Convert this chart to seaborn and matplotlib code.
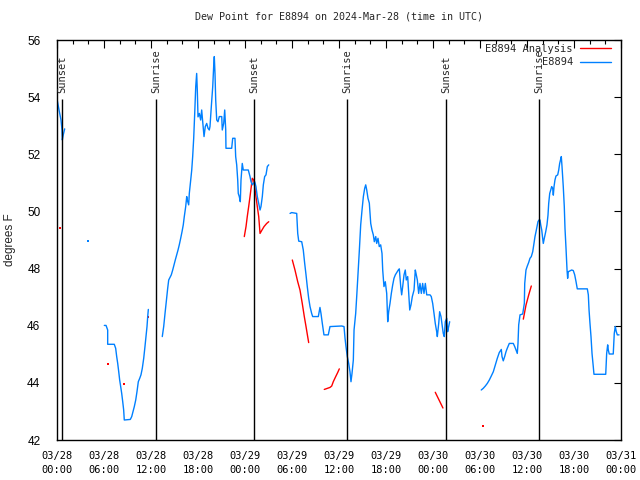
import pandas as pd
import numpy as np
import matplotlib
matplotlib.use('Agg')
import matplotlib.pyplot as plt
import matplotlib.dates as mdates
from matplotlib.lines import Line2D
import seaborn as sns

# Observed dew point (E8894), hours since 2024-03-28 00:00 UTC, split where data is missing
obs_h_1 = [0.0, 0.26, 0.51, 0.64, 0.68, 0.80, 0.98]
obs_v_1 = [53.94, 53.55, 53.20, 52.85, 52.50, 52.68, 52.89]

obs_h_2 = [6.04, 6.26, 6.47, 6.47, 7.31, 7.49, 7.62, 7.75, 7.88, 8.00, 8.13, 8.26, 8.39, 8.51,
           8.59, 9.36, 9.54, 9.70, 9.87, 10.05, 10.21, 10.38, 10.56, 10.72, 10.89, 11.07, 11.23,
           11.36, 11.49, 11.58, 11.66]
obs_v_2 = [46.01, 46.01, 45.85, 45.35, 45.35, 45.21, 44.92, 44.68, 44.39, 44.10, 43.87, 43.63,
           43.34, 43.05, 42.70, 42.72, 42.82, 42.99, 43.17, 43.40, 43.69, 44.04, 44.16, 44.28,
           44.51, 44.86, 45.27, 45.62, 45.97, 46.32, 46.57]

obs_h_3 = [13.44, 13.62, 13.79, 13.95, 14.13, 14.26, 14.59, 14.77, 14.94, 15.10, 15.28, 15.45,
           15.61, 15.79, 15.96, 16.12, 16.25, 16.43, 16.56, 16.63, 16.81, 16.89, 17.07, 17.20,
           17.32, 17.45, 17.58, 17.71, 17.83, 17.91, 18.00, 18.17, 18.34, 18.47, 18.60, 18.77,
           18.93, 19.11, 19.28, 19.44, 19.53, 19.70, 19.88, 20.00, 20.08, 20.17, 20.26, 20.39,
           20.55, 20.72, 21.03, 21.10, 21.28, 21.41, 21.54, 21.57, 22.30, 22.43, 22.72, 22.81,
           22.94, 23.07, 23.14, 23.27, 23.40, 23.49, 23.65, 23.78, 24.42, 24.64, 24.77, 24.93,
           25.06, 25.24, 25.40, 25.57, 25.75, 25.92, 26.04, 26.21, 26.34, 26.51, 26.68, 26.85,
           27.03]
obs_v_3 = [45.62, 45.97, 46.43, 46.84, 47.31, 47.60, 47.78, 47.95, 48.13, 48.30, 48.48, 48.65,
           48.83, 49.06, 49.29, 49.53, 49.82, 50.17, 50.52, 50.40, 50.23, 50.63, 51.10, 51.45,
           51.92, 52.56, 53.43, 54.37, 54.83, 54.25, 53.31, 53.43, 53.20, 53.55, 53.14, 52.62,
           52.97, 53.08, 52.91, 52.85, 52.97, 53.67, 54.37, 55.07, 55.42, 54.83, 53.90, 53.20,
           53.14, 53.32, 53.32, 52.85, 53.08, 53.55, 52.85, 52.21, 52.21, 52.56, 52.56, 51.92,
           51.63, 51.10, 50.63, 50.52, 50.34, 51.10, 51.68, 51.45, 51.45, 51.22, 51.04, 50.93,
           50.98, 51.04, 50.87, 50.52, 50.28, 50.05, 50.17, 50.52, 50.93, 51.22, 51.28, 51.57,
           51.63]

obs_h_4 = [29.75, 29.96, 30.60, 30.73, 30.86, 31.24, 31.44, 31.62, 31.79, 31.95, 32.13, 32.30,
           32.51, 32.64, 33.36, 33.57, 33.70, 33.87, 34.08, 34.63, 34.85, 36.34, 36.64, 36.77,
           36.89, 37.06, 37.24, 37.40, 37.53, 37.66, 37.83, 37.92, 38.13, 38.26, 38.43, 38.60,
           38.77, 38.94, 39.11, 39.28, 39.41, 39.54, 39.70, 39.87, 40.05, 40.21, 40.38, 40.51,
           40.69, 40.81, 40.98, 41.14, 41.32, 41.49, 41.58, 41.74, 41.91, 42.09, 42.22, 42.34,
           42.51, 42.68, 42.85, 43.02, 43.19, 43.37, 43.57, 43.70, 43.88, 44.00, 44.13, 44.30,
           44.46, 44.59, 44.77, 44.90, 45.03, 45.19, 45.36, 45.58, 45.74, 45.83, 46.00, 46.17,
           46.34, 46.51, 46.68, 46.85, 47.02, 47.20, 47.62, 47.78, 47.96, 48.13, 48.29, 48.47,
           48.55, 48.73, 48.85, 49.02, 49.19, 49.31, 49.44, 49.57, 49.75, 49.87, 50.00, 50.13]
obs_v_4 = [49.93, 49.96, 49.93, 49.23, 48.96, 48.94, 48.65, 48.18, 47.78, 47.37, 46.96, 46.67,
           46.43, 46.32, 46.32, 46.64, 46.43, 46.08, 45.68, 45.68, 45.97, 45.99, 45.97, 45.56,
           45.27, 44.92, 44.68, 44.39, 44.04, 44.33, 44.80, 45.85, 46.43, 47.02, 47.83, 48.65,
           49.53, 50.05, 50.52, 50.81, 50.93, 50.75, 50.46, 50.29, 49.58, 49.35, 49.18, 48.94,
           49.12, 48.88, 49.06, 48.77, 48.83, 48.53, 47.95, 47.37, 47.54, 47.13, 46.14, 46.49,
           46.78, 47.13, 47.42, 47.66, 47.78, 47.86, 47.95, 47.99, 47.37, 47.08, 47.37, 47.78,
           47.95, 47.60, 47.72, 47.13, 46.55, 46.73, 47.02, 47.25, 47.95, 47.83, 47.60, 47.13,
           47.48, 47.13, 47.48, 47.13, 47.48, 47.08, 47.08, 47.02, 46.78, 46.43, 46.08, 45.79,
           45.62, 46.08, 46.49, 46.32, 45.97, 45.73, 45.62, 46.14, 46.26, 45.79, 45.97, 46.14]

obs_h_5 = [54.16, 54.42, 54.68, 54.93, 55.19, 55.44, 55.70, 55.95, 56.21, 56.46, 56.72, 56.81,
           56.97, 57.15, 57.32, 57.48, 57.74, 58.25, 58.43, 58.60, 58.76, 58.85, 58.94, 59.11,
           59.45, 59.66, 59.71, 59.87, 60.04, 60.21, 60.38, 60.55, 60.73, 60.89, 61.02, 61.15,
           61.28, 61.40, 61.53, 61.66, 61.75, 61.88, 62.00, 62.08, 62.21, 62.39, 62.55, 62.68,
           62.77, 62.90, 63.03, 63.15, 63.28, 63.36, 63.45, 63.57, 63.70, 63.92, 64.05, 64.17,
           64.25, 64.38, 64.47, 64.63, 64.76, 64.85, 64.98, 65.11, 65.19, 65.27, 65.70, 65.91,
           66.09, 66.26, 66.42, 67.70, 67.83, 67.92, 68.04, 68.17, 68.30, 68.46, 68.55, 70.05,
           70.17, 70.30, 70.38, 70.50, 71.01, 71.14, 71.27, 71.40, 71.53, 71.75]
obs_v_5 = [43.75, 43.81, 43.89, 43.98, 44.10, 44.24, 44.39, 44.62, 44.86, 45.06, 45.17, 44.92,
           44.77, 44.92, 45.09, 45.21, 45.38, 45.38, 45.27, 45.15, 45.03, 45.38, 46.03, 46.38,
           46.41, 46.78, 47.48, 47.95, 48.09, 48.21, 48.36, 48.42, 48.59, 48.88, 49.12, 49.29,
           49.47, 49.64, 49.70, 49.70, 49.53, 49.35, 49.06, 48.88, 49.06, 49.29, 49.53, 49.87,
           50.28, 50.63, 50.75, 50.87, 50.81, 50.57, 50.87, 51.10, 51.24, 51.28, 51.45, 51.68,
           51.77, 51.92, 51.57, 50.87, 50.17, 49.41, 48.71, 47.95, 47.66, 47.89, 47.95, 47.93,
           47.78, 47.54, 47.29, 47.29, 47.08, 46.55, 46.08, 45.62, 45.03, 44.57, 44.30, 44.30,
           45.03, 45.33, 45.15, 45.01, 45.01, 45.73, 45.97, 45.79, 45.68, 45.68]

obs_dot_h = [4.0]
obs_dot_v = [48.97]

# Analysis series
ana_h_1 = [23.91, 24.13, 24.29, 24.47, 24.64, 24.80, 24.93, 25.11, 25.24, 25.40, 25.57, 25.75,
           25.92, 26.17, 26.43, 26.77, 27.03]
ana_v_1 = [49.12, 49.47, 49.82, 50.17, 50.52, 50.87, 51.16, 51.10, 50.87, 50.52, 50.17, 49.82,
           49.23, 49.35, 49.47, 49.58, 49.64]
ana_h_2 = [30.04, 30.38, 30.73, 31.02, 31.31, 31.57, 31.79, 32.00, 32.13]
ana_v_2 = [48.30, 47.95, 47.54, 47.25, 46.78, 46.32, 45.97, 45.62, 45.41]
ana_h_3 = [34.12, 34.85, 35.07, 35.27, 35.58, 35.83, 36.04]
ana_v_3 = [43.77, 43.84, 43.89, 44.04, 44.22, 44.36, 44.49]
ana_h_4 = [48.29, 49.27]
ana_v_4 = [43.67, 43.12]
ana_h_5 = [59.53, 59.87, 60.21, 60.55]
ana_v_5 = [46.23, 46.72, 47.07, 47.39]

ana_dot_h = [0.42, 6.55, 8.59, 11.65, 54.42]
ana_dot_v = [49.41, 44.66, 43.96, 46.31, 42.48]

# Sunrise / sunset markers
sun_h = [0.68, 12.68, 25.15, 37.06, 49.70, 61.57]
sun_lab = ['Sunset', 'Sunrise', 'Sunset', 'Sunrise', 'Sunset', 'Sunrise']

base = pd.Timestamp('2024-03-28 00:00')
BLUE = '#0080ff'
RED = '#ff0000'
MONO = 'DejaVu Sans Mono'


def to_time(hours):
    return base + pd.to_timedelta(np.array(hours), unit='h')


def build_frame(pairs):
    frames = []
    for i, (h, v) in enumerate(pairs):
        frames.append(pd.DataFrame({'time': to_time(h), 'value': v, 'seg': i}))
    return pd.concat(frames, ignore_index=True)


obs_df = build_frame([(obs_h_1, obs_v_1), (obs_h_2, obs_v_2), (obs_h_3, obs_v_3),
                      (obs_h_4, obs_v_4), (obs_h_5, obs_v_5)])
ana_df = build_frame([(ana_h_1, ana_v_1), (ana_h_2, ana_v_2), (ana_h_3, ana_v_3),
                      (ana_h_4, ana_v_4), (ana_h_5, ana_v_5)])

sns.set_theme(style='white')
plt.rcParams['font.family'] = ['DejaVu Sans']

fig = plt.figure(figsize=(6.4, 4.8), dpi=100)
ax = fig.add_axes([57 / 640, 40 / 480, 564 / 640, 400 / 480])

sns.lineplot(data=ana_df, x='time', y='value', units='seg', estimator=None, sort=False,
             color=RED, lw=1, ax=ax)
sns.lineplot(data=obs_df, x='time', y='value', units='seg', estimator=None, sort=False,
             color=BLUE, lw=1, ax=ax)
sns.scatterplot(x=to_time(ana_dot_h), y=ana_dot_v, color=RED, marker='s', s=2,
                linewidth=0, ax=ax)
sns.scatterplot(x=to_time(obs_dot_h), y=obs_dot_v, color=BLUE, marker='s', s=2,
                linewidth=0, ax=ax)

# sunrise / sunset lines
sun_t = to_time(sun_h)
ax.vlines(sun_t, 42, 53.94, color='black', lw=1)
for t, lab in zip(sun_t, sun_lab):
    ax.text(t, 54.15, lab, rotation=90, ha='center', va='bottom', family=MONO, fontsize=7.5)

ax.set_xlim(base, base + pd.Timedelta(hours=72))
ax.set_ylim(42, 56)
ax.set_yticks(np.arange(42, 57, 2))
ax.xaxis.set_major_locator(mdates.HourLocator(byhour=[0, 6, 12, 18]))
ax.xaxis.set_minor_locator(mdates.HourLocator(interval=2))
ax.xaxis.set_major_formatter(mdates.DateFormatter('%m/%d\n%H:%M'))

ax.tick_params(axis='both', which='both', direction='in', top=True, right=True, colors='black')
ax.tick_params(axis='x', which='major', length=6, width=0.8, pad=8)
ax.tick_params(axis='x', which='minor', length=3, width=0.8)
ax.tick_params(axis='y', which='major', length=5, width=0.8, pad=12)
for lab in ax.get_xticklabels():
    lab.set_family(MONO)
    lab.set_fontsize(7.5)
    lab.set_linespacing(1.5)
for lab in ax.get_yticklabels():
    lab.set_family('Liberation Sans')
    lab.set_fontsize(8.5)

for sp in ax.spines.values():
    sp.set_color('black')
    sp.set_linewidth(1)

ax.set_xlabel('')
ax.set_ylabel('degrees F', family='Liberation Sans', fontsize=8.5, labelpad=8)
ax.set_title('Dew Point for E8894 on 2024-Mar-28 (time in UTC)', family=MONO,
             fontsize=7.2, pad=15)

handles = [Line2D([], [], color=RED, lw=1), Line2D([], [], color=BLUE, lw=1)]
ax.legend(handles, ['E8894 Analysis', 'E8894'], loc='upper right',
          bbox_to_anchor=(1 - 6 / 564, 1), frameon=False,
          markerfirst=False, handlelength=3, handletextpad=0.7, labelspacing=0.35,
          borderpad=0.2, borderaxespad=0.15, prop={'family': MONO, 'size': 7.5})

fig.savefig('out.png', dpi=100)
